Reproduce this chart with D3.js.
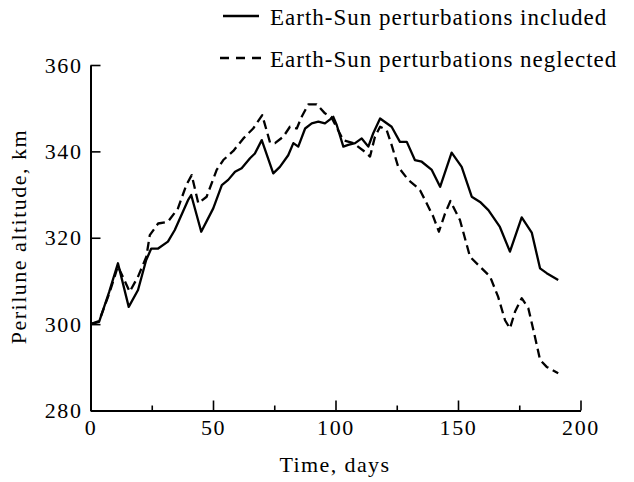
<!DOCTYPE html>
<html><head><meta charset="utf-8">
<script src="https://cdn.jsdelivr.net/npm/d3@7"></script>
<style>
body{margin:0;background:#fff;}
svg{display:block;}
text{font-family:"Liberation Serif","Times New Roman",serif;fill:#000;}
</style></head>
<body><svg id="c" width="634" height="482"></svg>
<script>
const daysIncluded = [0,3.5,7.6,11.2,15.6,19.4,22.7,24.8,27.6,31.6,34.4,39.8,41.1,45.2,50.1,53.6,56.2,59.0,61.7,65.1,67.1,69.9,74.6,77.3,80.7,82.8,84.8,87.6,90.3,93.0,95.7,99.1,100.5,103.2,105.2,108.0,110.7,113.4,115.4,118.2,120.9,122.9,126.3,129.1,132.4,135.2,139.3,142.7,147.4,151.5,155.6,159.0,162.4,167.1,171.2,176.0,180.1,183.5,186.2,190.9];
const altIncluded = [300.0,300.5,307.4,314.1,304.0,307.9,314.8,317.5,317.5,319.1,321.8,328.7,329.9,321.4,326.8,332.2,333.4,335.3,336.1,338.4,339.5,342.6,334.9,336.4,339.1,341.9,341.1,345.3,346.5,346.9,346.5,348.0,346.1,341.1,341.5,341.9,343.0,341.1,344.2,347.6,346.5,345.7,342.2,342.2,338.0,337.6,335.7,331.8,339.7,336.4,329.5,328.3,326.4,322.5,316.8,324.7,321.2,312.9,311.8,310.2];
const daysNeglected = [0,3.5,7.6,11.2,16.0,19.4,22.8,24.2,27.6,31.6,35.7,39.1,41.3,44.0,47.4,51.5,54.2,58.3,62.4,66.4,70.1,73.3,75.3,78.7,81.4,84.2,86.2,88.9,92.3,95.7,98.2,103.2,107.3,112.0,114.1,116.1,118.2,120.9,122.9,125.6,129.7,133.1,134.5,137.2,139.9,142.2,144.7,146.9,150.8,154.9,158.3,163.1,166.4,169.2,171.2,173.3,176.0,178.7,181.4,183.5,186.2,190.9];
const altNeglected = [300.0,300.7,307.0,313.4,307.5,311.0,315.6,320.6,323.3,323.7,326.8,332.2,334.5,328.0,329.5,335.7,338.0,340.1,343.0,345.3,348.4,342.0,341.9,343.4,345.7,345.3,348.0,350.9,350.9,348.8,348.0,342.6,341.9,339.9,338.8,343.4,345.7,344.9,341.5,336.4,333.4,331.8,331.0,328.0,324.9,321.4,325.6,328.5,324.1,315.6,313.7,311.0,306.3,300.9,299.0,302.9,306.0,303.7,297.1,291.7,290.1,288.6];
const xTicks = [0,50,100,150,200];
const xMinorTicks = [25,75,125,175];
const yTicks = [280,300,320,340,360];
const seriesNames = ["Earth-Sun perturbations included","Earth-Sun perturbations neglected"];

const svg = d3.select("#c");
const x = d3.scaleLinear().domain([0,200]).range([90.5,580.5]);
const y = d3.scaleLinear().domain([280,360]).range([410.5,65]);

svg.append("g").attr("transform","translate(0,410.5)")
  .call(d3.axisBottom(x).tickValues(xTicks).tickSizeInner(-10).tickSizeOuter(0).tickPadding(9).tickFormat(d3.format("d")));
svg.append("g").attr("transform","translate(0,410.5)")
  .call(d3.axisBottom(x).tickValues(xMinorTicks).tickSizeInner(-5).tickSizeOuter(0).tickFormat(""))
  .select(".domain").remove();
svg.append("g").attr("transform","translate(90.5,0)")
  .call(d3.axisLeft(y).tickValues(yTicks).tickSizeInner(-10).tickSizeOuter(0).tickPadding(8).tickFormat(d3.format("d")));
svg.selectAll(".domain").attr("stroke","#000").attr("stroke-width",2);
svg.selectAll(".tick line").attr("stroke","#000").attr("stroke-width",1.6);
svg.selectAll(".tick text").attr("font-size",22).attr("letter-spacing",1.6).attr("font-family","Liberation Serif").attr("fill","#000");

const line = d3.line().x(d=>x(d[0])).y(d=>y(d[1]));
const incl = daysIncluded.map((d,i)=>[d,altIncluded[i]]);
const negl = daysNeglected.map((d,i)=>[d,altNeglected[i]]);
svg.append("path").attr("d",line(negl)).attr("fill","none").attr("stroke","#000").attr("stroke-width",2.3).attr("stroke-dasharray","9,5").attr("stroke-linejoin","round");
svg.append("path").attr("d",line(incl)).attr("fill","none").attr("stroke","#000").attr("stroke-width",2.3).attr("stroke-linejoin","round");

// legend
const leg = svg.append("g");
[0,1].forEach(i=>{
  const yy = 16 + i*42;
  leg.append("line").attr("x1",i===1?220:223).attr("x2",i===1?262:259).attr("y1",yy).attr("y2",yy)
    .attr("stroke","#000").attr("stroke-width",2.3).attr("stroke-dasharray", i===1?"9,7":null);
  leg.append("text").attr("x",270).attr("y",yy+9).attr("font-size",23).attr("letter-spacing",1).text(seriesNames[i]);
});

svg.append("text").attr("x",335).attr("y",472).attr("text-anchor","middle").attr("font-size",22).attr("letter-spacing",1.4).text("Time, days");
svg.append("text").attr("transform","translate(26,236.5) rotate(-90)").attr("text-anchor","middle").attr("font-size",22).attr("letter-spacing",1.5).text("Perilune altitude, km");
</script></body></html>
